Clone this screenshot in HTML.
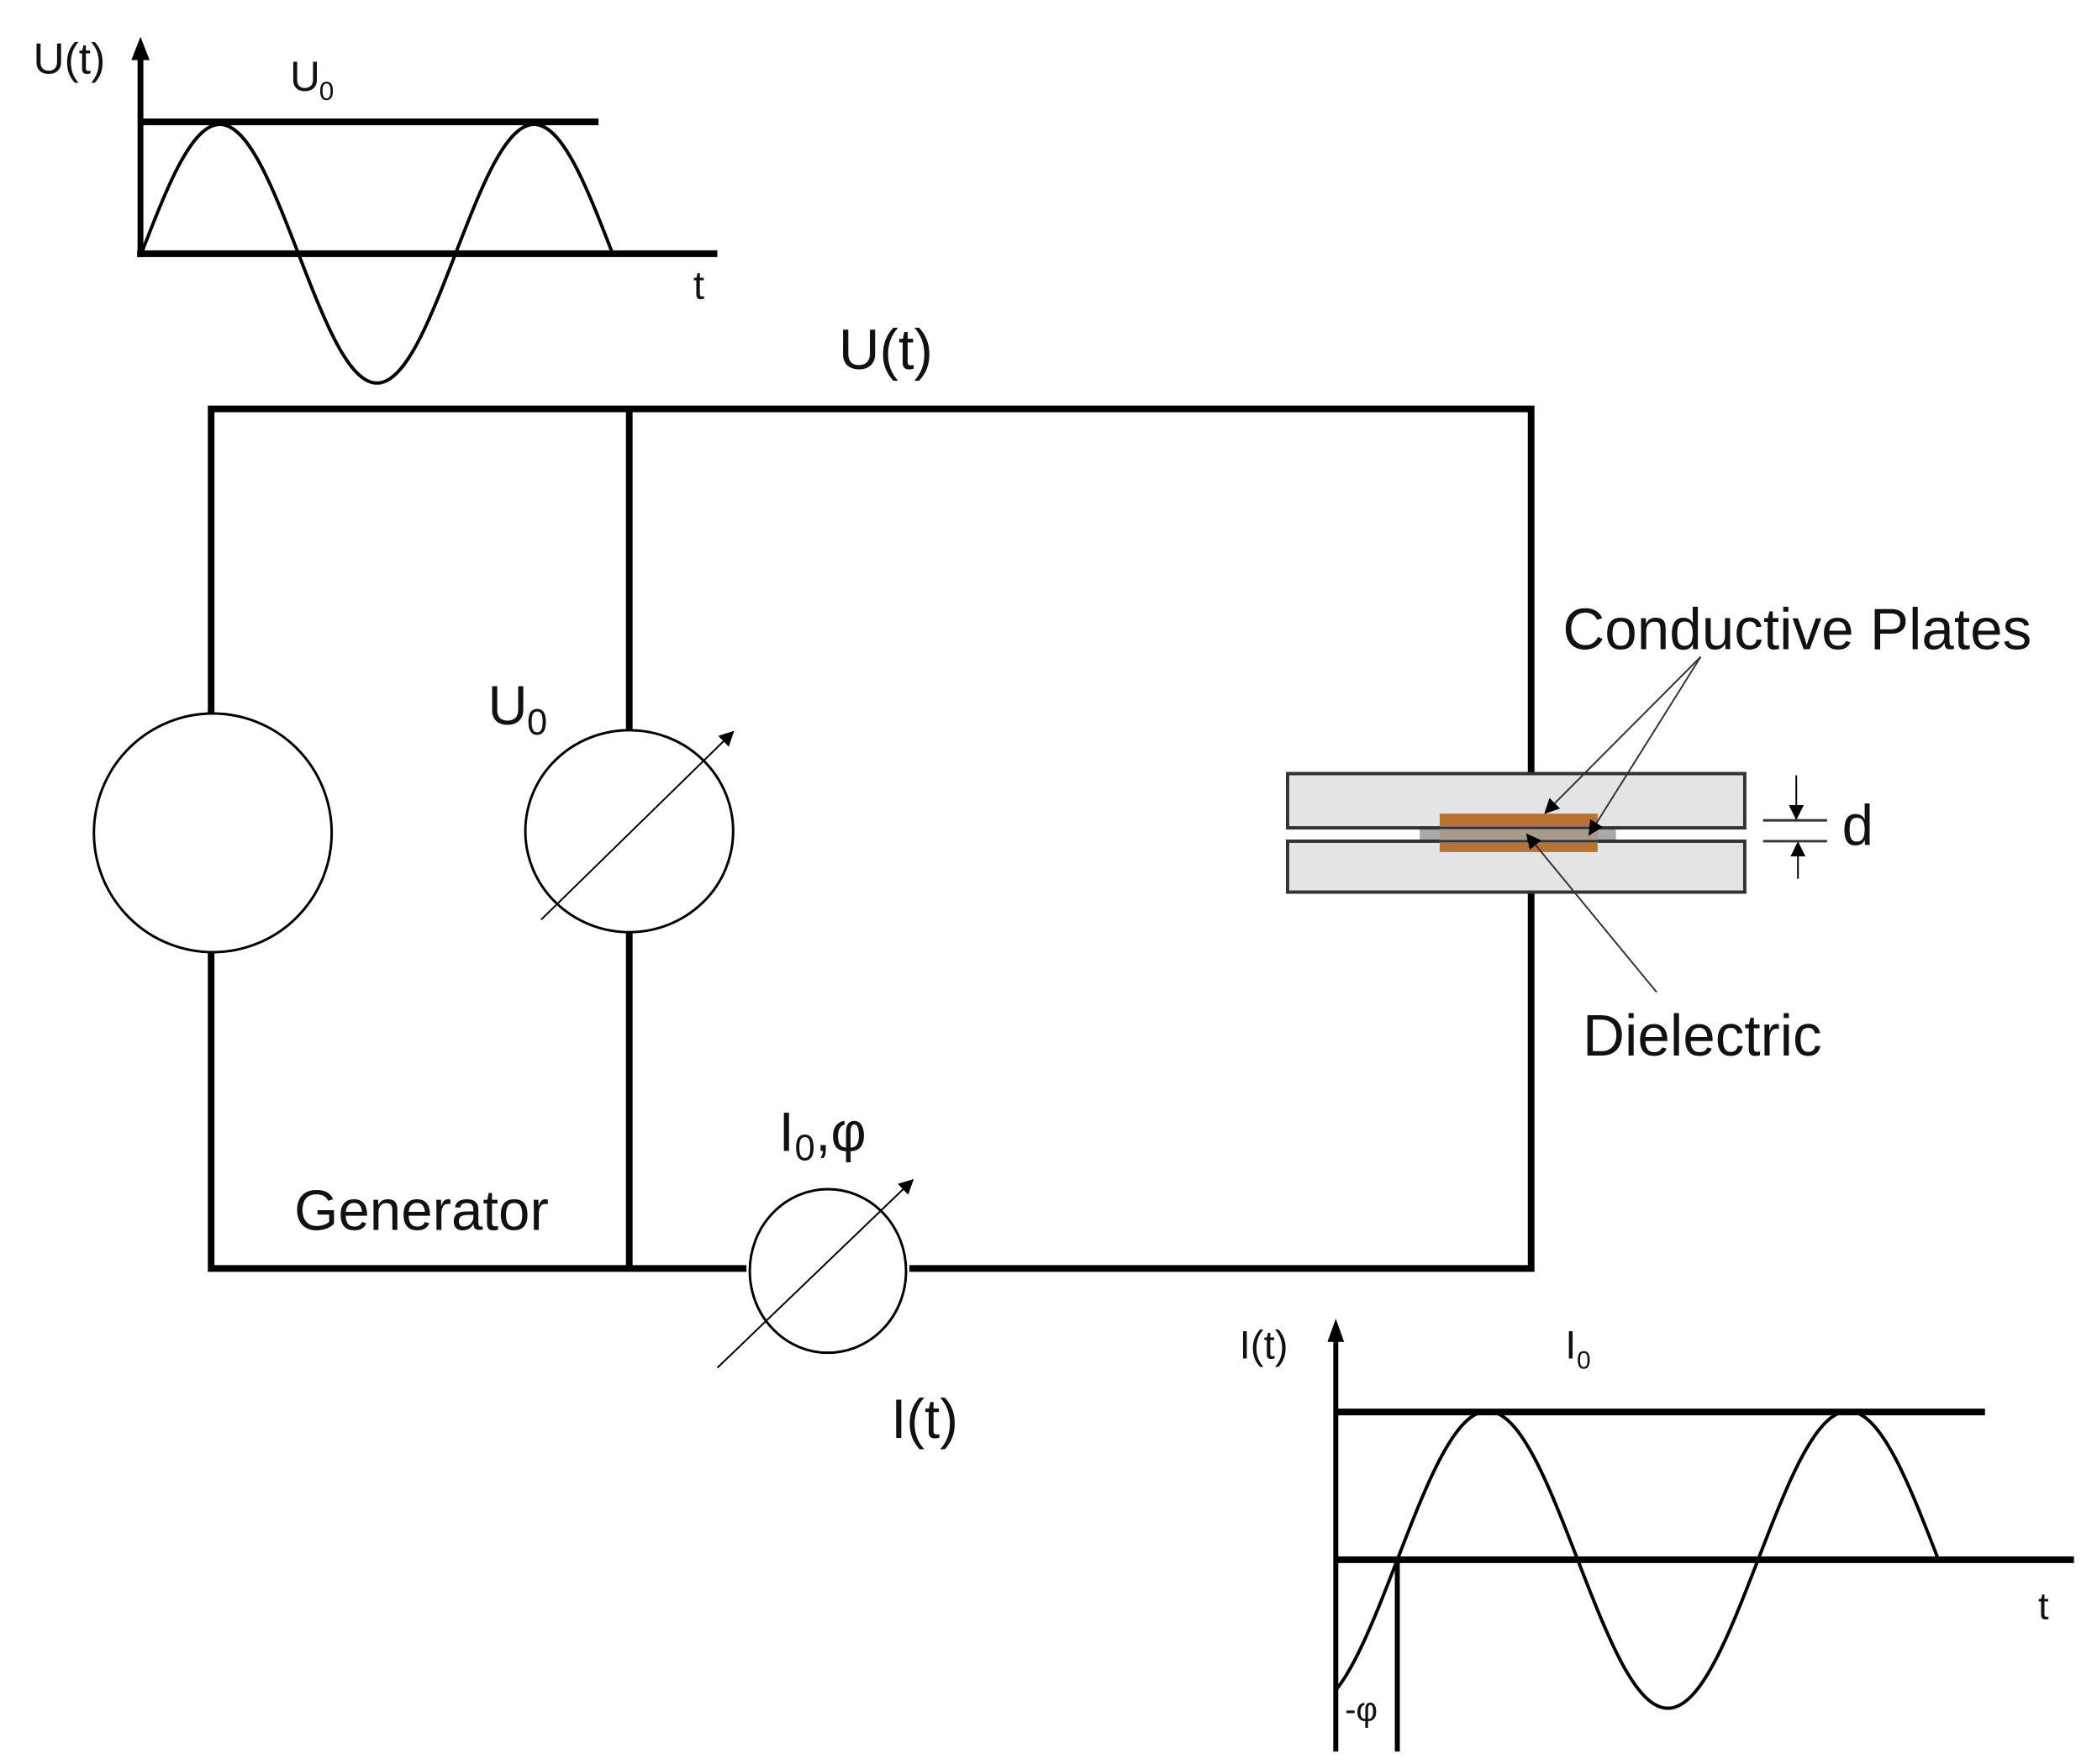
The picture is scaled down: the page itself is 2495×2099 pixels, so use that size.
<!DOCTYPE html>
<html><head><meta charset="utf-8"><style>
html,body{margin:0;padding:0;background:#fff}
svg{display:block}
text{font-family:"Liberation Sans",sans-serif;fill:#111}
</style></head><body>
<svg width="2495" height="2099" viewBox="0 0 2495 2099" xmlns="http://www.w3.org/2000/svg">
<defs>
<marker id="ah2" viewBox="0 0 10 10" refX="9" refY="5" markerWidth="22" markerHeight="18" orient="auto" markerUnits="userSpaceOnUse"><path d="M0,0 L10,5 L0,10 z" fill="#000"/></marker>
<clipPath id="cb"><rect x="1607" y="1500" width="900" height="600"/></clipPath>
</defs>
<g transform="scale(0.989,0.993)">
<!-- Top graph -->
<line x1="169" y1="308" x2="169" y2="70" stroke="#000" stroke-width="7"/>
<path d="M158,72 L169,44 L180,72 z" fill="#000"/>
<line x1="169" y1="146" x2="720" y2="146" stroke="#000" stroke-width="8"/>
<line x1="165" y1="304" x2="863" y2="304" stroke="#000" stroke-width="8"/>
<path d="M170,304 C201.6,222.6 230.5,149 264.5,149 C298.5,149 327.4,222.6 359,304 C390.6,385.4 419.5,459 453.5,459 C487.5,459 516.4,385.4 548,304 C579.6,222.6 608.5,149 642.5,149 C676.5,149 705.4,222.6 737,304" fill="none" stroke="#000" stroke-width="4"/>
<text x="40" y="88" font-size="52">U(t)</text>
<text x="349" y="109" font-size="50">U</text><text x="384" y="120" font-size="32">0</text>
<text x="834" y="358" font-size="48">t</text>

<!-- Main circuit -->
<g stroke="#000" stroke-width="8" fill="none">
<path d="M254,855 L254,490 L1842,490 L1842,927"/>
<path d="M1842,1069 L1842,1520 L1094,1520"/>
<path d="M898,1520 L254,1520 L254,1141"/>
<line x1="757" y1="490" x2="757" y2="875"/>
<line x1="757" y1="1117" x2="757" y2="1520"/>
</g>
<ellipse cx="256" cy="998" rx="143" ry="143" fill="#fff" stroke="#000" stroke-width="3"/>
<ellipse cx="757" cy="996" rx="125" ry="121" fill="#fff" stroke="#000" stroke-width="3"/>
<ellipse cx="996" cy="1523" rx="94" ry="98" fill="#fff" stroke="#000" stroke-width="3"/>
<line x1="651" y1="1102" x2="882" y2="877" stroke="#000" stroke-width="2" marker-end="url(#ah2)"/>
<line x1="863" y1="1639" x2="1098" y2="1414" stroke="#000" stroke-width="2" marker-end="url(#ah2)"/>

<text x="1009" y="442" font-size="68">U(t)</text>
<text x="587" y="868" font-size="66">U</text><text x="634" y="880" font-size="44">0</text>
<text x="354" y="1474" font-size="68">Generator</text>
<text x="937" y="1379" font-size="66">I</text><text x="956" y="1390" font-size="44">0</text><text x="981" y="1379" font-size="66">,φ</text>
<text x="1072" y="1723" font-size="66">I(t)</text>

<!-- Capacitor -->
<rect x="1708" y="990" width="236" height="20" fill="#aaa"/>
<rect x="1549" y="927" width="550" height="65" fill="#e4e4e4" stroke="#333" stroke-width="4"/>
<rect x="1549" y="1008" width="550" height="61" fill="#e4e4e4" stroke="#333" stroke-width="4"/>
<rect x="1732" y="975" width="190" height="15" fill="#b87333"/>
<rect x="1732" y="1010" width="190" height="11" fill="#b87333"/>
<rect x="1732" y="990" width="190" height="20" fill="#a89a8c"/>
<line x1="1732" y1="992" x2="1922" y2="992" stroke="#333" stroke-width="3"/>
<line x1="1732" y1="1008" x2="1922" y2="1008" stroke="#333" stroke-width="3"/>
<line x1="2046" y1="787" x2="1859" y2="974" stroke="#333" stroke-width="2" marker-end="url(#ah2)"/>
<line x1="2046" y1="787" x2="1912" y2="1000" stroke="#333" stroke-width="2" marker-end="url(#ah2)"/>
<line x1="1993" y1="1189" x2="1837" y2="1000" stroke="#333" stroke-width="2" marker-end="url(#ah2)"/>
<text x="1880" y="778" font-size="70">Conductive Plates</text>
<text x="1904" y="1265" font-size="70">Dielectric</text>
<!-- d dimension -->
<line x1="2121" y1="983" x2="2198" y2="983" stroke="#333" stroke-width="3"/>
<line x1="2121" y1="1008" x2="2198" y2="1008" stroke="#333" stroke-width="3"/>
<line x1="2161" y1="929" x2="2161" y2="981" stroke="#000" stroke-width="2" marker-end="url(#ah2)"/>
<line x1="2163" y1="1053" x2="2163" y2="1010" stroke="#000" stroke-width="2" marker-end="url(#ah2)"/>
<text x="2216" y="1012" font-size="68">d</text>

<!-- Bottom graph -->
<line x1="1607" y1="2099" x2="1607" y2="1605" stroke="#000" stroke-width="6"/>
<path d="M1597,1608 L1607,1580 L1617,1608 z" fill="#000"/>
<line x1="1681" y1="1869" x2="1681" y2="2099" stroke="#000" stroke-width="6"/>
<line x1="1607" y1="1692" x2="2388" y2="1692" stroke="#000" stroke-width="8"/>
<line x1="1607" y1="1869" x2="2495" y2="1869" stroke="#000" stroke-width="8"/>
<path clip-path="url(#cb)" d="M1572.5,2047 C1611.6,2047 1644.7,1962.5 1681,1869 C1717.3,1775.5 1750.4,1691 1789.5,1691 C1828.6,1691 1861.7,1775.5 1898,1869 C1934.3,1962.5 1967.4,2047 2006.5,2047 C2045.6,2047 2078.7,1962.5 2115,1869 C2151.3,1775.5 2184.4,1691 2223.5,1691 C2262.6,1691 2295.7,1775.5 2332,1869" fill="none" stroke="#000" stroke-width="4"/>
<text x="1491" y="1628" font-size="48">I(t)</text>
<text x="1883" y="1628" font-size="48">I</text><text x="1897" y="1640" font-size="30">0</text>
<text x="2452" y="1940" font-size="46">t</text>
<text x="1618" y="2062" font-size="40">-φ</text>
</g>
</svg>
</body></html>
